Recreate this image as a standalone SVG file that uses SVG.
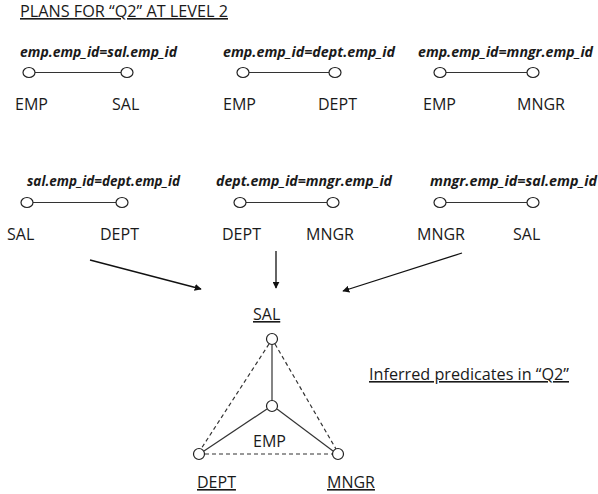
<svg xmlns="http://www.w3.org/2000/svg" width="598" height="494" viewBox="0 0 598 494">
<defs>
<style>
text{font-family:"Open Sans","Liberation Sans",sans-serif;fill:#1a1a1a;}
.t{font-size:16px;}
.p{font-size:14px;font-weight:bold;font-style:italic;}
.h{font-size:16px;text-decoration:underline;}
.n{fill:#fff;stroke:#222;stroke-width:1.2;}
.e{stroke:#333;stroke-width:1.2;fill:none;}
.d{stroke:#333;stroke-width:1.2;fill:none;stroke-dasharray:4,3;}
.a{stroke:#111;stroke-width:1.3;fill:none;marker-end:url(#ah);}
</style>
<marker id="ah" viewBox="0 0 10 10" refX="9" refY="5" markerWidth="7" markerHeight="7" orient="auto" markerUnits="userSpaceOnUse"><path d="M0,0L10,5L0,10z" fill="#111"/></marker>
</defs>
<rect width="598" height="494" fill="#fff"/>
<text id="title" class="h" x="20" y="17" textLength="208" lengthAdjust="spacingAndGlyphs">PLANS FOR “Q2” AT LEVEL 2</text>

<g id="connectors">
<line class="e" x1="35" y1="72.5" x2="121" y2="72.5"/>
<line class="e" x1="249" y1="72.5" x2="329" y2="72.5"/>
<line class="e" x1="446" y1="72.5" x2="527" y2="72.5"/>
<line class="e" x1="33" y1="202.5" x2="116" y2="202.5"/>
<line class="e" x1="246" y1="202.5" x2="327" y2="202.5"/>
<line class="e" x1="446" y1="202.5" x2="527" y2="202.5"/>
<line class="a" x1="90" y1="260" x2="201" y2="289"/>
<line class="a" x1="276" y1="251" x2="276" y2="288"/>
<line class="a" x1="462" y1="253" x2="343" y2="291"/>
<line class="e" x1="272" y1="344.5" x2="272" y2="400.5"/>
<line class="e" x1="267" y1="409" x2="204" y2="451"/>
<line class="e" x1="277" y1="409" x2="333" y2="451"/>
<line class="d" x1="269" y1="344" x2="201" y2="449"/>
<line class="d" x1="275" y1="344" x2="336" y2="449"/>
<line class="d" x1="205" y1="454" x2="332" y2="454"/>
</g>

<g id="plan1">
<text class="p" x="20" y="57" textLength="157" lengthAdjust="spacingAndGlyphs">emp.emp_id=sal.emp_id</text>
<ellipse class="n" cx="29" cy="72.5" rx="6" ry="5"/>
<ellipse class="n" cx="127" cy="72.5" rx="6" ry="5"/>
<text class="t" x="15" y="110">EMP</text>
<text class="t" x="112" y="110">SAL</text>
</g>
<g id="plan2">
<text class="p" x="223" y="57" textLength="172" lengthAdjust="spacingAndGlyphs">emp.emp_id=dept.emp_id</text>
<ellipse class="n" cx="243" cy="72.5" rx="6" ry="5"/>
<ellipse class="n" cx="335" cy="72.5" rx="6" ry="5"/>
<text class="t" x="223" y="110">EMP</text>
<text class="t" x="318" y="110">DEPT</text>
</g>
<g id="plan3">
<text class="p" x="418" y="57" textLength="175" lengthAdjust="spacingAndGlyphs">emp.emp_id=mngr.emp_id</text>
<ellipse class="n" cx="440" cy="72.5" rx="6" ry="5"/>
<ellipse class="n" cx="533" cy="72.5" rx="6" ry="5"/>
<text class="t" x="423" y="110">EMP</text>
<text class="t" x="517" y="110">MNGR</text>
</g>
<g id="plan4">
<text class="p" x="27" y="186" textLength="153" lengthAdjust="spacingAndGlyphs">sal.emp_id=dept.emp_id</text>
<ellipse class="n" cx="27" cy="202.5" rx="6" ry="5"/>
<ellipse class="n" cx="122" cy="202.5" rx="6" ry="5"/>
<text class="t" x="7" y="240">SAL</text>
<text class="t" x="100" y="240">DEPT</text>
</g>
<g id="plan5">
<text class="p" x="216" y="186" textLength="176" lengthAdjust="spacingAndGlyphs">dept.emp_id=mngr.emp_id</text>
<ellipse class="n" cx="240" cy="202.5" rx="6" ry="5"/>
<ellipse class="n" cx="333" cy="202.5" rx="6" ry="5"/>
<text class="t" x="222" y="240">DEPT</text>
<text class="t" x="306" y="240">MNGR</text>
</g>
<g id="plan6">
<text class="p" x="430" y="186" textLength="167" lengthAdjust="spacingAndGlyphs">mngr.emp_id=sal.emp_id</text>
<ellipse class="n" cx="440" cy="202.5" rx="6" ry="5"/>
<ellipse class="n" cx="533" cy="202.5" rx="6" ry="5"/>
<text class="t" x="417" y="240">MNGR</text>
<text class="t" x="513" y="240">SAL</text>
</g>

<g id="node-sal">
<circle class="n" cx="272" cy="339" r="5.5"/>
<text class="t" x="253" y="320" style="text-decoration:underline">SAL</text>
</g>
<g id="node-emp">
<circle class="n" cx="272" cy="406" r="5.5"/>
<text class="t" x="253" y="447">EMP</text>
</g>
<g id="node-dept">
<circle class="n" cx="199" cy="454" r="5.5"/>
<text class="t" x="197" y="488" style="text-decoration:underline">DEPT</text>
</g>
<g id="node-mngr">
<circle class="n" cx="338" cy="454" r="5.5"/>
<text class="t" x="327" y="488" style="text-decoration:underline">MNGR</text>
</g>
<text id="inferred" class="t" x="369" y="380" textLength="200" lengthAdjust="spacingAndGlyphs" style="text-decoration:underline">Inferred predicates in “Q2”</text>
</svg>
